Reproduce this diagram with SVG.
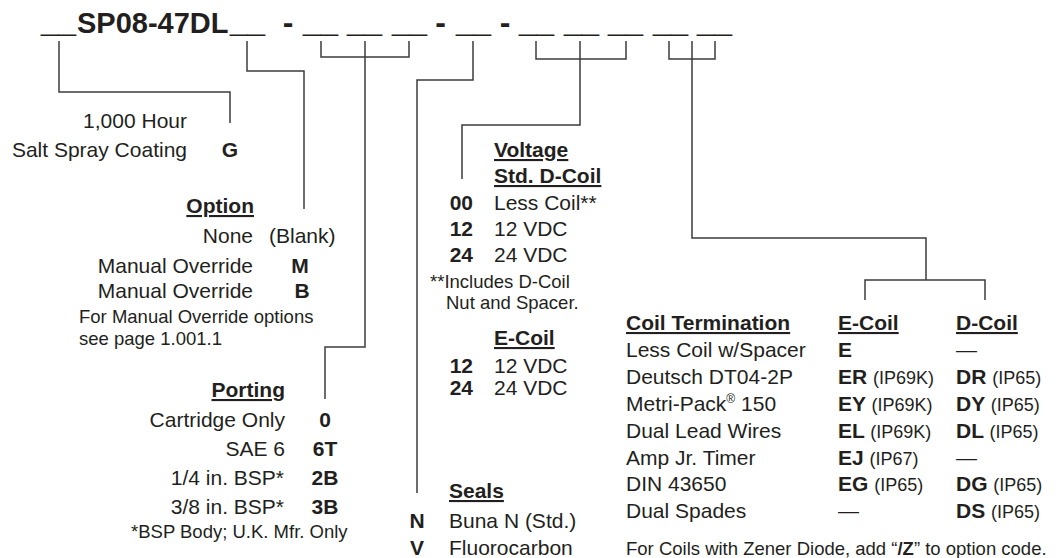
<svg xmlns="http://www.w3.org/2000/svg" width="1062" height="558" viewBox="0 0 1062 558">
<style>
text{font-family:"Liberation Sans",Arial,Helvetica,sans-serif;font-size:21px;fill:#231f20}
.b{font-weight:bold}
.u{font-weight:bold;text-decoration:underline}
.s{font-size:18.5px}
.p{font-size:18px;font-weight:normal}
.e{text-anchor:end}
.m{text-anchor:middle}
.us{font-size:24px}
.hd{font-size:29px;font-weight:bold}
.dash{font-size:32px;font-weight:bold;text-anchor:middle}
.c{fill:none;stroke:#3c3c3c;stroke-width:1.5}
</style>
<rect width="1062" height="558" fill="#fff"/>
<g id="header">
<text class="us" x="41" y="31" textLength="35" lengthAdjust="spacingAndGlyphs">__</text>
<text class="hd" x="77" y="33">SP08-47DL</text>
<text class="us" x="230" y="31" textLength="35" lengthAdjust="spacingAndGlyphs">__</text>
<text class="dash" x="288" y="33">-</text>
<text class="us" x="303" y="31" textLength="35" lengthAdjust="spacingAndGlyphs">__</text>
<text class="us" x="347" y="31" textLength="35" lengthAdjust="spacingAndGlyphs">__</text>
<text class="us" x="392" y="31" textLength="35" lengthAdjust="spacingAndGlyphs">__</text>
<text class="dash" x="440.5" y="33">-</text>
<text class="us" x="456" y="31" textLength="35" lengthAdjust="spacingAndGlyphs">__</text>
<text class="dash" x="505" y="33">-</text>
<text class="us" x="519" y="31" textLength="35" lengthAdjust="spacingAndGlyphs">__</text>
<text class="us" x="564" y="31" textLength="35" lengthAdjust="spacingAndGlyphs">__</text>
<text class="us" x="608" y="31" textLength="35" lengthAdjust="spacingAndGlyphs">__</text>
<text class="us" x="653" y="31" textLength="35" lengthAdjust="spacingAndGlyphs">__</text>
<text class="us" x="697" y="31" textLength="35" lengthAdjust="spacingAndGlyphs">__</text>
</g>
<g id="connectors">
<path class="c" d="M59,41 V92 H230 V123"/>
<path class="c" d="M247,41 V71 H304 V209"/>
<path class="c" d="M321,41 V57 H409 V41"/>
<path class="c" d="M365,41 V347 H325 V399"/>
<path class="c" d="M473,41 V80 H417 V493"/>
<path class="c" d="M536,41 V59 H626 V41"/>
<path class="c" d="M580,41 V125 H462 V179"/>
<path class="c" d="M669,41 V59 H715 V41"/>
<path class="c" d="M692,41 V238 H926 V280"/>
<path class="c" d="M865,300 V280 H985 V300"/>
</g>
<g id="coating">
<text class="e" x="187" y="128">1,000 Hour</text>
<text class="e" x="187" y="157">Salt Spray Coating</text>
<text class="b m" x="230" y="157">G</text>
</g>
<g id="option">
<text class="u e" x="254" y="213">Option</text>
<text class="e" x="253" y="243">None</text>
<text x="269" y="243">(Blank)</text>
<text class="e" x="253" y="273">Manual Override</text>
<text class="b m" x="300" y="273">M</text>
<text class="e" x="253" y="298">Manual Override</text>
<text class="b m" x="302" y="298">B</text>
<text class="s" x="79" y="323">For Manual Override options</text>
<text class="s" x="79" y="345">see page 1.001.1</text>
</g>
<g id="porting">
<text class="u e" x="285" y="397">Porting</text>
<text class="e" x="285" y="427">Cartridge Only</text>
<text class="b m" x="325" y="427">0</text>
<text class="e" x="285" y="456">SAE 6</text>
<text class="b m" x="325" y="456">6T</text>
<text class="e" x="284" y="485">1/4 in. BSP*</text>
<text class="b m" x="325" y="485">2B</text>
<text class="e" x="284" y="514">3/8 in. BSP*</text>
<text class="b m" x="325" y="514">3B</text>
<text class="s" x="131" y="538">*BSP Body; U.K. Mfr. Only</text>
</g>
<g id="voltage">
<text class="u" x="494" y="157">Voltage</text>
<text class="u" x="494" y="183">Std. D-Coil</text>
<text class="b e" x="473" y="210">00</text>
<text x="494" y="210">Less Coil**</text>
<text class="b e" x="473" y="236">12</text>
<text x="494" y="236">12 VDC</text>
<text class="b e" x="473" y="262">24</text>
<text x="494" y="262">24 VDC</text>
<text class="s" x="430" y="288">**Includes D-Coil</text>
<text class="s" x="446" y="309">Nut and Spacer.</text>
<text class="u" x="494" y="345">E-Coil</text>
<text class="b e" x="473" y="373">12</text>
<text x="494" y="373">12 VDC</text>
<text class="b e" x="473" y="395">24</text>
<text x="494" y="395">24 VDC</text>
</g>
<g id="seals">
<text class="u" x="449" y="498">Seals</text>
<text class="b m" x="417" y="528">N</text>
<text x="449" y="528">Buna N (Std.)</text>
<text class="b m" x="417" y="555">V</text>
<text x="449" y="555">Fluorocarbon</text>
</g>
<g id="coil-termination">
<text class="u" x="626" y="330">Coil Termination</text>
<text class="u" x="838" y="330">E-Coil</text>
<text class="u" x="956" y="330">D-Coil</text>
<text x="626" y="357">Less Coil w/Spacer</text>
<text class="b" x="838" y="357">E</text>
<text x="956" y="357">—</text>
<text x="626" y="384">Deutsch DT04-2P</text>
<text class="b" x="838" y="384">ER <tspan class="p">(IP69K)</tspan></text>
<text class="b" x="956" y="384">DR <tspan class="p">(IP65)</tspan></text>
<text x="626" y="411">Metri-Pack<tspan font-size="12" dy="-8">®</tspan><tspan dy="8"> 150</tspan></text>
<text class="b" x="838" y="411">EY <tspan class="p">(IP69K)</tspan></text>
<text class="b" x="956" y="411">DY <tspan class="p">(IP65)</tspan></text>
<text x="626" y="438">Dual Lead Wires</text>
<text class="b" x="838" y="438">EL <tspan class="p">(IP69K)</tspan></text>
<text class="b" x="956" y="438">DL <tspan class="p">(IP65)</tspan></text>
<text x="626" y="465">Amp Jr. Timer</text>
<text class="b" x="838" y="465">EJ <tspan class="p">(IP67)</tspan></text>
<text x="956" y="465">—</text>
<text x="626" y="491">DIN 43650</text>
<text class="b" x="838" y="491">EG <tspan class="p">(IP65)</tspan></text>
<text class="b" x="956" y="491">DG <tspan class="p">(IP65)</tspan></text>
<text x="626" y="518">Dual Spades</text>
<text x="838" y="518">—</text>
<text class="b" x="956" y="518">DS <tspan class="p">(IP65)</tspan></text>
<text class="s" x="626" y="555">For Coils with Zener Diode, add “<tspan class="b">/Z</tspan>” to option code.</text>
</g>
</svg>
